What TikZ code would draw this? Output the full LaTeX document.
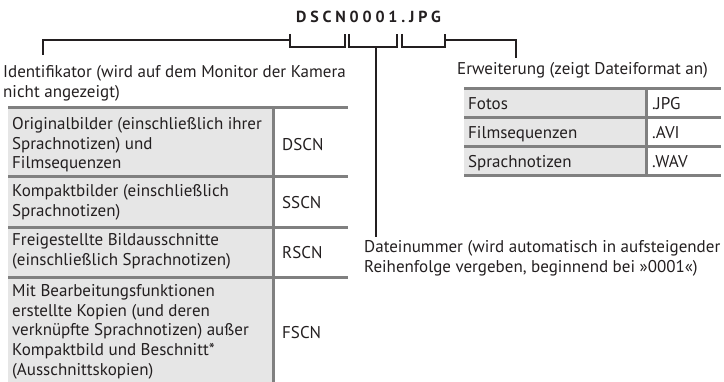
\documentclass[tikz,border=0pt]{standalone}
\usepackage{fontspec}
\setmainfont{PT Sans}
\newfontfamily\namefont[LetterSpace=24]{PT Sans}
\usetikzlibrary{positioning}
\definecolor{ink}{RGB}{35,31,32}
\definecolor{rulegray}{RGB}{128,128,128}
\definecolor{cellgray}{RGB}{230,230,230}
\tikzset{
  txt/.style={anchor=north west, yshift=13.8pt, align=left, inner sep=0pt, text=ink,
    font=\fontsize{17}{19.7}\selectfont, execute at begin node=\strut},
  tabrule/.style={rulegray, line width=3pt},
  brace/.style={ink, line width=2pt}
}
\begin{document}
\begin{tikzpicture}[x=1pt,y=-1pt]
  \useasboundingbox (0,0) rectangle (724,382);
  % file name
  \node[inner sep=0pt, anchor=base, text=ink, font=\namefont\bfseries\fontsize{16}{18}\selectfont] (fname) at (368.5,23) {DSCN0001.JPG};
  % brackets under the name
  \draw[brace] (290,34) -- (290,47) -- (345,47) -- (345,34);
  \draw[brace] (349,34) -- (349,47) -- (397,47) -- (397,34);
  \draw[brace] (402,34) -- (402,47) -- (445,47) -- (445,34);
  \coordinate (idtop) at (290,40);
  \coordinate (numtop) at (376,47);
  \coordinate (exttop) at (445,40);
  % labels (placed at the first baseline)
  \node[txt] (ident) at (3,79) {Identifikator (wird auf dem Monitor der Kamera\\nicht angezeigt)};
  \node[txt] (ext) at (457,74) {Erweiterung (zeigt Dateiformat an)};
  \node[txt] (num) at (364,254) {Dateinummer (wird automatisch in aufsteigender\\Reihenfolge vergeben, beginnend bei »0001«)};
  \coordinate (idend) at (43,55);
  \coordinate (numend) at (376,237);
  \coordinate (extend) at (516,58);
  % leaders
  \draw[brace] (idtop) -| (idend);
  \draw[brace] (numtop) -- (numend);
  \draw[brace] (exttop) -| (extend);
  % left table
  \fill[cellgray] (8,108) rectangle (273,382);
  \foreach \y in {108,177,228,278}
    \draw[tabrule] (8,\y) -- (348,\y);
  \draw[tabrule] (273,108) -- (273,382);
  \node[txt] (orig) at (12,131) {Originalbilder (einschließlich ihrer\\Sprachnotizen) und\\Filmsequenzen};
  \node[txt] (origcode) at (282,150) {DSCN};
  \node[txt] (small) at (12,198) {Kompaktbilder (einschließlich\\Sprachnotizen)};
  \node[txt] (smallcode) at (282,208) {SSCN};
  \node[txt] (crop) at (12,247) {Freigestellte Bildausschnitte\\(einschließlich Sprachnotizen)};
  \node[txt] (cropcode) at (282,258) {RSCN};
  \node[txt] (edit) at (12,298) {Mit Bearbeitungsfunktionen\\erstellte Kopien (und deren\\verknüpfte Sprachnotizen) außer\\Kompaktbild und Beschnitt*\\(Ausschnittskopien)};
  \node[txt] (editcode) at (282,338) {FSCN};
  % right table
  \fill[cellgray] (464,89) rectangle (646,176);
  \foreach \y in {89,118,147,176}
    \draw[tabrule] (464,\y) -- (721,\y);
  \draw[tabrule] (646,89) -- (646,176);
  \node[txt] (photo) at (468,109) {Fotos};
  \node[txt] (photoext) at (652,109) {.JPG};
  \node[txt] (movie) at (468,138) {Filmsequenzen};
  \node[txt] (movieext) at (652,138) {.AVI};
  \node[txt] (voice) at (468,167) {Sprachnotizen};
  \node[txt] (voiceext) at (652,167) {.WAV};
\end{tikzpicture}
\end{document}
